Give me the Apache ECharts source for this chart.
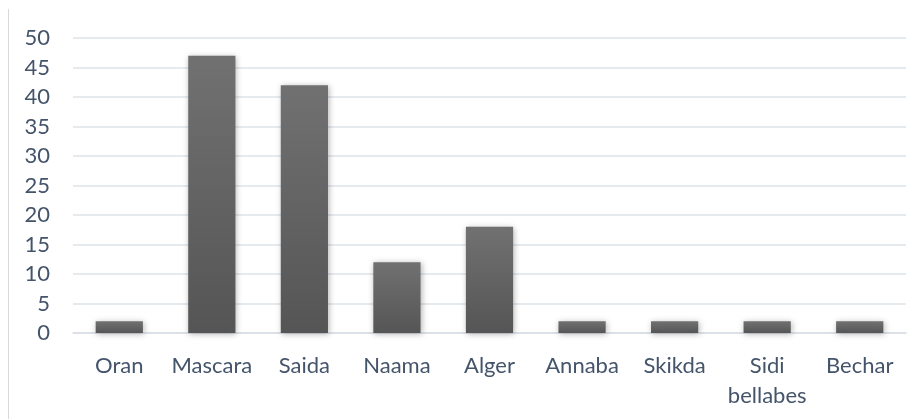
<!DOCTYPE html>
<html>
<head>
<meta charset="utf-8">
<script src="https://cdn.jsdelivr.net/npm/echarts@6/dist/echarts.min.js"></script>
<style>
html,body{margin:0;padding:0;background:#fff;}
#c{width:923px;height:419px;}
</style>
</head>
<body>
<div id="c"></div>
<script>
const categories = ["Oran", "Mascara", "Saida", "Naama", "Alger", "Annaba", "Skikda", "Sidi\nbellabes", "Bechar"];
const values = [2, 47, 42, 12, 18, 2, 2, 2, 2];
const yTicks = [0, 5, 10, 15, 20, 25, 30, 35, 40, 45, 50];

const chart = echarts.init(document.getElementById('c'));
const textColor = '#44546A';
const font = 'Lato, "Open Sans", sans-serif';
chart.setOption({
  animation: false,
  backgroundColor: '#ffffff',
  graphic: [{
    type: 'line',
    shape: {x1: 8.5, y1: 9, x2: 8.5, y2: 419},
    style: {stroke: '#d9d9d9', lineWidth: 1}
  }],
  grid: {left: 73, right: 17, top: 38, bottom: 86, containLabel: false},
  xAxis: {
    type: 'category',
    data: categories,
    axisLine: {show: true, lineStyle: {color: '#d9dee5', width: 1.5}},
    axisTick: {show: false},
    axisLabel: {color: textColor, fontSize: 22, fontFamily: font, margin: 18, lineHeight: 30, interval: 0}
  },
  yAxis: {
    type: 'value',
    min: yTicks[0],
    max: yTicks[yTicks.length - 1],
    interval: 5,
    axisLine: {show: false},
    axisTick: {show: false},
    splitLine: {lineStyle: {color: '#dde3ea', width: 1.5}},
    axisLabel: {color: textColor, fontSize: 22, fontFamily: font, margin: 23}
  },
  series: [{
    type: 'bar',
    data: values,
    barWidth: '51%',
    itemStyle: {
      color: new echarts.graphic.LinearGradient(0, 0, 0, 1, [
        {offset: 0, color: '#717171'},
        {offset: 1, color: '#555555'}
      ]),
      shadowBlur: 6,
      shadowColor: 'rgba(0,0,0,0.3)',
      shadowOffsetX: 1,
      shadowOffsetY: 1
    }
  }]
});
</script>
</body>
</html>
